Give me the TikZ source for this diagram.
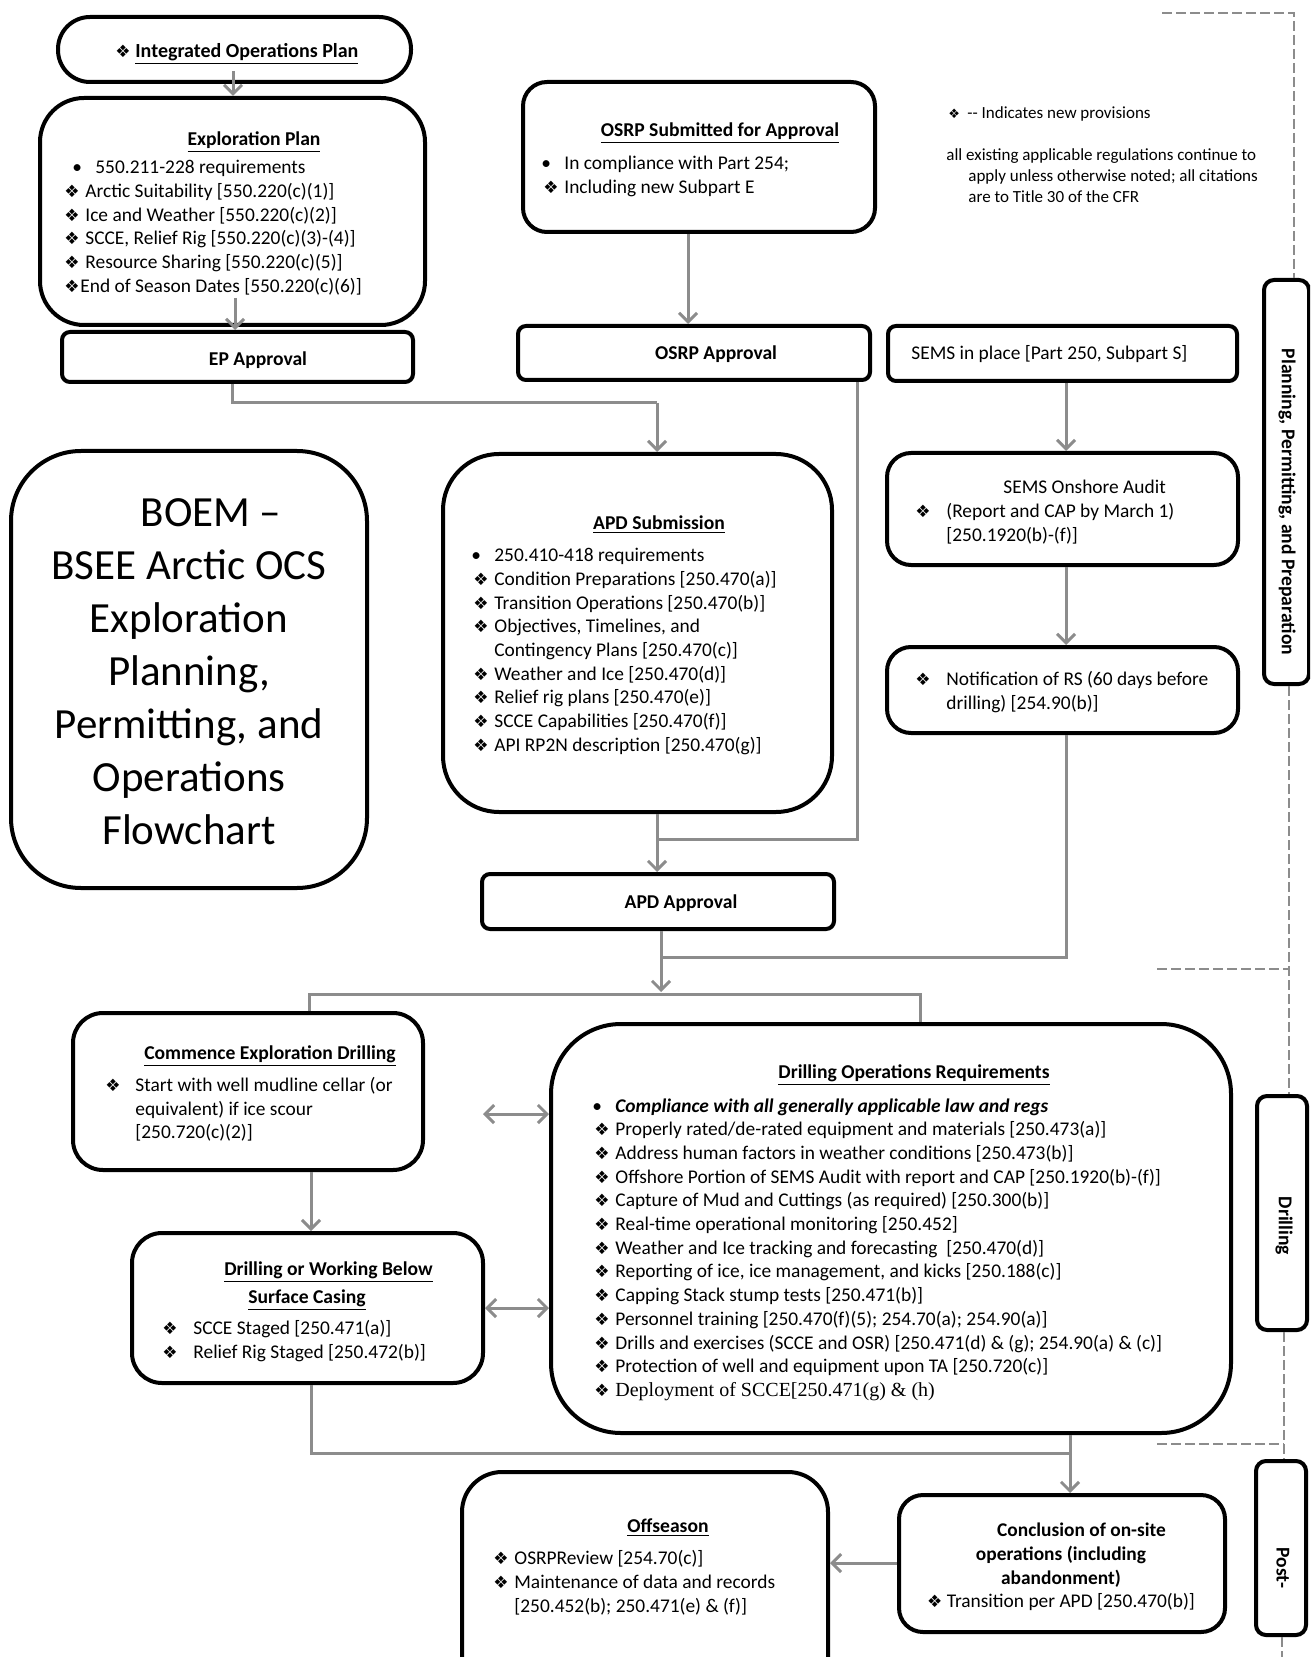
\documentclass[tikz,border=0pt]{standalone}
\usepackage{fontspec}
\setmainfont{Carlito}
\newfontfamily\symfont{DejaVu Sans}
\newfontfamily\timesfont{Liberation Serif}
\usetikzlibrary{fit,arrows.meta}

\newcommand{\dia}[1][8.5]{{\symfont\fontsize{#1}{#1}\selectfont ❖}}
\newcommand{\dm}[1]{\makebox[#1][l]{\dia}}
\newcommand{\bl}[1]{\makebox[#1][l]{•}}

\begin{document}
\begin{tikzpicture}[x=0.5pt,y=-0.5pt,
  box/.style={draw, line width=2pt, rounded corners=#1, inner sep=0pt},
  box/.default=4pt,
  txt/.style={inner sep=0pt, font=\fontsize{9.7}{11.85}\selectfont},
  lst/.style={txt, align=left, anchor=north west},
  ttl/.style={inner sep=0pt, font=\fontsize{9.8}{11.85}\selectfont\bfseries},
  arr/.style={draw=black!45, line width=1.5pt, -{Straight Barb[length=4.5pt,width=9pt]}},
  dbl/.style={arr, {Straight Barb[length=4.5pt,width=9pt]}-{Straight Barb[length=4.5pt,width=9pt]}},
  con/.style={draw=black!45, line width=1.5pt},
  phase/.style={draw=black!45, line width=1.4pt, dash pattern=on 5pt off 2pt},
  side/.style={inner sep=0pt, rotate=-90, font=\fontsize{9.8}{11}\selectfont\bfseries}]

\useasboundingbox (0,0) rectangle (1310,1657);
\clip (0,0) rectangle (1310,1657);

\node[box=16pt, fit={(58,17) (411,82)}] (iop) {};
\node[box=22pt, fit={(40,98) (425,325)}] (ep) {};
\node[box, fit={(62,332) (413,382)}] (epa) {};
\node[box=12pt, fit={(523,82) (875,232)}] (osrp) {};
\node[box, fit={(518,326) (870,380)}] (osrpa) {};
\node[box, fit={(888,326) (1237,381)}] (sems) {};
\node[box=35pt, fit={(11,451) (367,888)}] (boem) {};
\node[box=28pt, fit={(443,454) (832,812)}] (apd) {};
\node[box=12pt, fit={(887,453) (1238,565)}] (audit) {};
\node[box=12pt, fit={(887,647) (1238,733)}] (rs) {};
\node[box, fit={(482,874) (834,929)}] (apda) {};
\node[box=15pt, fit={(73,1013) (423,1170)}] (ced) {};
\node[box=15pt, fit={(132,1233) (483,1383)}] (dwb) {};
\node[box=35pt, fit={(551,1024) (1231,1433)}] (dor) {};
\node[box=12pt, fit={(899,1495) (1225,1632)}] (conc) {};
\node[box=20pt, fit={(462,1472) (828,1720)}] (off) {};
\node[box=5pt, fit={(1264,280) (1309,684)}] (lplan) {};
\node[box=5pt, fit={(1257,1096) (1307,1330)}] (ldrill) {};
\node[box=5pt, fit={(1256,1461) (1306,1635)}] (lpost) {};

\node[txt, anchor=west, font=\fontsize{10}{12}\selectfont] (iopt) at (115,54) {\dm{10pt}\textbf{\underline{Integrated Operations Plan}}};

\node[ttl] (ept) at (254,142) {\underline{Exploration Plan}};
\node[lst] (epl) at (64,160) {\hspace*{4pt}\bl{11.5pt}550.211-228 requirements\\
  \dm{10.5pt}Arctic Suitability [550.220(c)(1)]\\
  \dm{10.5pt}Ice and Weather [550.220(c)(2)]\\
  \dm{10.5pt}SCCE, Relief Rig [550.220(c)(3)-(4)]\\
  \dm{10.5pt}Resource Sharing [550.220(c)(5)]\\
  \dm{8pt}End of Season Dates [550.220(c)(6)]};
\node[ttl] (epat) at (258,360) {EP Approval};

\node[ttl] (osrpt) at (720,133) {\underline{OSRP Submitted for Approval}};
\node[lst] (osrpl) at (541,156) {\bl{11.5pt}In compliance with Part 254;\\
  \hspace*{1pt}\dm{10.5pt}Including new Subpart E};
\node[ttl] (osrpat) at (716,354) {OSRP Approval};
\node[txt, anchor=west] (semst) at (911,354) {SEMS in place [Part 250, Subpart S]};

\node[lst, font=\fontsize{8.5}{10.5}\selectfont] (note1) at (948,106) {\makebox[9.5pt][l]{\dia[6.5]}-{}- Indicates new provisions};
\node[lst, font=\fontsize{8.5}{10.5}\selectfont] (note2) at (946,148) {all existing applicable regulations continue to\\
  \hspace*{11pt}apply unless otherwise noted; all citations\\
  \hspace*{11pt}are to Title 30 of the CFR};

\node[inner sep=0pt, align=center, font=\fontsize{21.5}{26.5}\selectfont] (boemt) at (189,672) {\hspace*{22pt}BOEM –\\BSEE Arctic OCS\\Exploration\\Planning,\\Permitting, and\\Operations\\Flowchart};

\node[ttl] (apdt) at (659,525) {\underline{APD Submission}};
\node[lst] (apdl) at (471,548) {\bl{11.5pt}250.410-418 requirements\\
  \hspace*{1pt}\dm{10.5pt}Condition Preparations [250.470(a)]\\
  \hspace*{1pt}\dm{10.5pt}Transition Operations [250.470(b)]\\
  \hspace*{1pt}\dm{10.5pt}Objectives, Timelines, and\\
  \hspace*{11.5pt}Contingency Plans [250.470(c)]\\
  \hspace*{1pt}\dm{10.5pt}Weather and Ice [250.470(d)]\\
  \hspace*{1pt}\dm{10.5pt}Relief rig plans [250.470(e)]\\
  \hspace*{1pt}\dm{10.5pt}SCCE Capabilities [250.470(f)]\\
  \hspace*{1pt}\dm{10.5pt}API RP2N description [250.470(g)]};
\node[ttl] (apdat) at (681,903) {APD Approval};

\node[lst] (auditl) at (915,480) {\hspace*{44pt}SEMS Onshore Audit\\
  \dm{15.5pt}(Report and CAP by March 1)\\
  \hspace*{15.5pt}[250.1920(b)-(f)]};
\node[lst] (rsl) at (915,671) {\dm{15.5pt}Notification of RS (60 days before\\
  \hspace*{15.5pt}drilling) [254.90(b)]};

\node[ttl] (cedt) at (270,1056) {\underline{Commence Exploration Drilling}};
\node[lst] (cedl) at (105,1077) {\dm{15pt}Start with well mudline cellar (or\\
  \hspace*{15pt}equivalent) if ice scour\\
  \hspace*{15pt}[250.720(c)(2)]};

\node[ttl, align=center] (dwbt) at (307,1286) {\hspace*{21.5pt}\underline{Drilling or Working Below}\\[2pt]\underline{Surface Casing}};
\node[lst] (dwbl) at (162,1320) {\dm{15.5pt}SCCE Staged [250.471(a)]\\
  \dm{15.5pt}Relief Rig Staged [250.472(b)]};

\node[ttl] (dort) at (914,1075) {\underline{Drilling Operations Requirements}};
\node[lst] (dorl) at (592,1098) {\bl{11.5pt}\textbf{\textit{Compliance with all generally applicable law and regs}}\\
  \hspace*{1pt}\dm{10.5pt}Properly rated/de-rated equipment and materials [250.473(a)]\\
  \hspace*{1pt}\dm{10.5pt}Address human factors in weather conditions [250.473(b)]\\
  \hspace*{1pt}\dm{10.5pt}Offshore Portion of SEMS Audit with report and CAP [250.1920(b)-(f)]\\
  \hspace*{1pt}\dm{10.5pt}Capture of Mud and Cuttings (as required) [250.300(b)]\\
  \hspace*{1pt}\dm{10.5pt}Real-time operational monitoring [250.452]\\
  \hspace*{1pt}\dm{10.5pt}Weather and Ice tracking and forecasting\ \ [250.470(d)]\\
  \hspace*{1pt}\dm{10.5pt}Reporting of ice, ice management, and kicks [250.188(c)]\\
  \hspace*{1pt}\dm{10.5pt}Capping Stack stump tests [250.471(b)]\\
  \hspace*{1pt}\dm{10.5pt}Personnel training [250.470(f)(5); 254.70(a); 254.90(a)]\\
  \hspace*{1pt}\dm{10.5pt}Drills and exercises (SCCE and OSR) [250.471(d) \& (g); 254.90(a) \& (c)]\\
  \hspace*{1pt}\dm{10.5pt}Protection of well and equipment upon TA [250.720(c)]\\
  \hspace*{1pt}\dm{10.5pt}{\timesfont\fontsize{10}{11.85}\selectfont Deployment of SCCE[250.471(g) \& (h)}};

\node[txt, align=center] (conct) at (1061,1567) {\hspace*{20.5pt}\textbf{Conclusion of on-site}\\
  \textbf{operations (including}\\
  \textbf{abandonment)}\\
  \dia\ Transition per APD [250.470(b)]};

\node[ttl] (offt) at (668,1528) {\underline{Offseason}};
\node[lst] (offl) at (493,1550) {\dm{10.5pt}OSRPReview [254.70(c)]\\
  \dm{10.5pt}Maintenance of data and records\\
  \hspace*{10.5pt}[250.452(b); 250.471(e) \& (f)]};

\node[side] (lplant) at (1287,502) {Planning, Permitting, and Preparation};
\node[side] (ldrillt) at (1284,1226) {Drilling};
\node[side] (lpostt) at (1283,1568) {Post-};

\coordinate (k1) at (233,71);
\coordinate (k2) at (235,298);
\coordinate (k3) at (688,0);
\coordinate (k4) at (232,403);
\coordinate (k5) at (657,403);
\coordinate (k6) at (857,839);
\coordinate (k7) at (1066,0);
\coordinate (k8) at (661,957);
\coordinate (k9) at (661,992);
\coordinate (k10) at (309,994);
\coordinate (k11) at (920,994);
\coordinate (k12) at (311,0);
\coordinate (k13) at (483,1114);
\coordinate (k14) at (0,1308);
\coordinate (k15) at (311,1453);
\coordinate (k16) at (1070,1453);
\coordinate (k17) at (0,1563);

\draw[arr] (k1) -- (ep.north -| k1);
\draw[arr] (k2) -- (epa.north -| k2);
\draw[arr] (osrp.south -| k3) -- (osrpa.north -| k3);
\draw[con] (epa.south -| k4) -- (k4) -- (k5);
\draw[arr] (k5) -- (apd.north -| k5);
\draw[con] (osrpa.south -| k6) -- (k6) -- (k6 -| k5);
\draw[arr] (apd.south -| k5) -- (apda.north -| k5);
\draw[arr] (sems.south -| k7) -- (audit.north -| k7);
\draw[arr] (audit.south -| k7) -- (rs.north -| k7);
\draw[con] (rs.south -| k7) -- (k8 -| k7) -- (k8);
\draw[arr] (apda.south -| k8) -- (k9);
\draw[con] (ced.north -| k10) -- (k10) -- (k11) -- (dor.north -| k11);
\draw[arr] (ced.south -| k12) -- (dwb.north -| k12);
\draw[dbl] (k13) -- (dor.west |- k13);
\draw[dbl] (dwb.east |- k14) -- (dor.west |- k14);
\draw[con] (dwb.south -| k15) -- (k15) -- (k16);
\draw[con] (dor.south -| k16) -- (k16);
\draw[arr] (k16) -- (conc.north -| k16);
\draw[arr] (conc.west |- k17) -- (off.east |- k17);

\coordinate (d1) at (1162,13);
\coordinate (d2) at (1294,13);
\coordinate (d3) at (1289,0);
\coordinate (d4) at (1157,969);
\coordinate (d5) at (1284,0);
\coordinate (d6) at (1157,1444);
\coordinate (d7) at (1282,1660);

\draw[phase] (d1) -- (d2) -- (lplan.north -| d2);
\draw[phase] (lplan.south -| d3) -- (ldrill.north -| d3);
\draw[phase] (d4) -- (d4 -| d3);
\draw[phase] (ldrill.south -| d5) -- (lpost.north -| d5);
\draw[phase] (d6) -- (d6 -| d5);
\draw[phase] (lpost.south -| d7) -- (d7);
\end{tikzpicture}
\end{document}
